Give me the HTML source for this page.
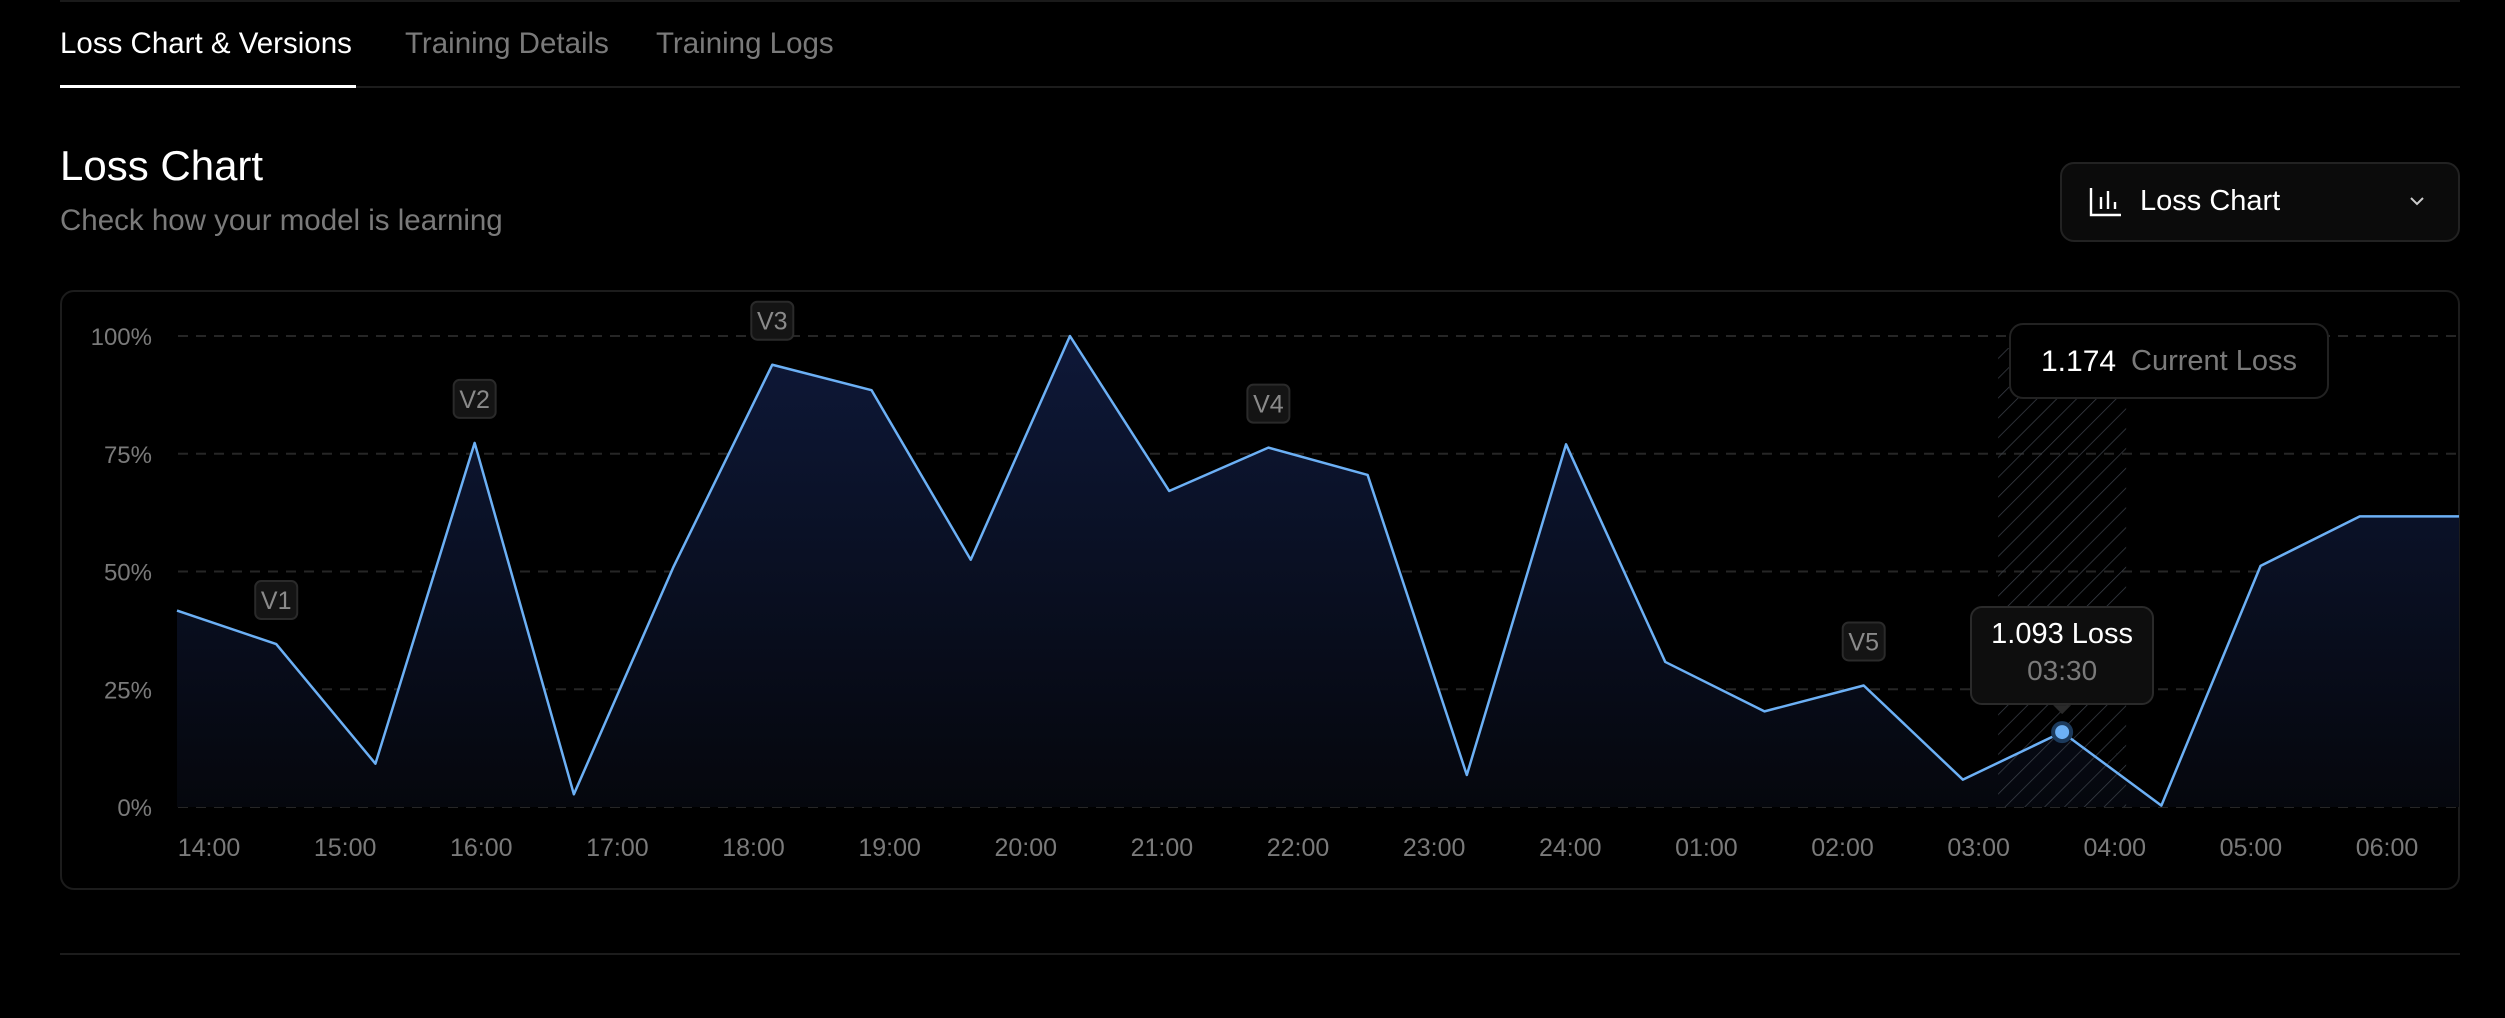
<!DOCTYPE html>
<html><head><meta charset="utf-8">
<style>
html,body{margin:0;padding:0;background:#000;width:2505px;height:1018px;overflow:hidden;font-family:"Liberation Sans",sans-serif;}
.abs{position:absolute;}
.tab{position:absolute;top:27px;font-size:29.5px;color:#7a7a7a;}
</style></head><body>
<div class="abs" style="left:60px;top:0;width:2400px;height:2px;background:#1a1a1a"></div>
<div class="tab" style="left:60px;color:#fff">Loss Chart &amp; Versions</div>
<div class="tab" style="left:405px">Training Details</div>
<div class="tab" style="left:656px">Training Logs</div>
<div class="abs" style="left:60px;top:86px;width:2400px;height:2px;background:#1c1c1c"></div>
<div class="abs" style="left:60px;top:85px;width:296px;height:3px;background:#fff"></div>
<div class="abs" style="left:60px;top:142px;font-size:42px;color:#fff">Loss Chart</div>
<div class="abs" style="left:60px;top:204px;font-size:29.5px;color:#7a7a7a">Check how your model is learning</div>
<div class="abs" style="left:2060px;top:162px;width:396px;height:76px;border:2px solid #222;border-radius:14px;background:#0b0b0b">
  <svg class="abs" style="left:27px;top:23px" width="34" height="30" viewBox="0 0 34 30"><path d="M2 1V28H32M12 10V22M19 4V22M26 15V22" stroke="#fff" stroke-width="2.4" fill="none"/></svg>
  <div class="abs" style="left:78px;top:21px;font-size:29px;color:#fff">Loss Chart</div>
  <svg class="abs" style="left:346px;top:30px" width="18" height="14" viewBox="0 0 18 14"><path d="M3 4L9 10L15 4" stroke="#ccc" stroke-width="2" fill="none"/></svg>
</div>
<div class="abs" style="left:60px;top:290px;width:2396px;height:596px;border:2px solid #1c1c1c;border-radius:14px"></div>
<div class="abs" style="left:60px;top:953px;width:2400px;height:2px;background:#1c1c1c"></div>
<svg id="chart" class="abs" style="left:0;top:0" width="2505" height="1018"></svg>
<div class="abs" style="left:2009px;top:323px;width:320px;height:76px;border:2px solid #222;border-radius:14px;background:#000;box-sizing:border-box">
  <span class="abs" style="left:30px;top:20px;font-size:30px;color:#fff">1.174</span>
  <span class="abs" style="left:120px;top:20px;font-size:29px;color:#7a7a7a">Current Loss</span>
</div>
<div id="tip" class="abs" style="width:184px;height:99px;border:2px solid #2a2a2a;border-radius:12px;background:#0e0e0e;box-sizing:border-box;text-align:center">
  <div style="margin-top:10px;font-size:29px;color:#fff">1.093 Loss</div>
  <div style="margin-top:4px;font-size:28px;color:#7a7a7a">03:30</div>
</div>
<script>
const yTicks=[0,25,50,75,100];
const xLabels=["14:00","15:00","16:00","17:00","18:00","19:00","20:00","21:00","22:00","23:00","24:00","01:00","02:00","03:00","04:00","05:00","06:00"];
const lossValues=[41.7,34.6,9.2,77.3,2.7,50.8,93.9,88.5,52.5,100,67.1,76.3,70.5,6.8,77,30.8,20.3,25.8,5.8,15.9,0.3,51.2,61.7,61.7];
const versionLabels=["V1","V2","V3","V4","V5"];
const versionIndex=[1,3,6,11,17];
const activeIndex=19;
const NS="http://www.w3.org/2000/svg";
const svg=document.getElementById('chart');
const X0=177,X1=2459,Y0=807,Y1=336;
const xs=i=>X0+(X1-X0)*i/(lossValues.length-1);
const ys=v=>Y0-(Y0-Y1)*v/100;
const lx=i=>209+(2387-209)*i/(xLabels.length-1);
function mk(t,a,p){const e=document.createElementNS(NS,t);for(const k in a)e.setAttribute(k,a[k]);(p||svg).appendChild(e);return e;}
const defs=mk('defs',{});
defs.innerHTML='<linearGradient id="fg" x1="0" y1="0" x2="0" y2="1"><stop offset="0" stop-color="#0e1838"/><stop offset="1" stop-color="#05070d"/></linearGradient><pattern id="hatch" width="14" height="14" patternUnits="userSpaceOnUse" patternTransform="rotate(45)"><line x1="0" y1="0" x2="0" y2="14" stroke="#3a3f48" stroke-width="1.5"/></pattern>';
yTicks.forEach(v=>{
  const g=mk('line',{x1:178,x2:2458,y1:ys(v),y2:ys(v),stroke:'#262626','stroke-width':2,'stroke-dasharray':'10 8'});
  
  
  const t=mk('text',{x:152,y:ys(v)+9,'text-anchor':'end','font-size':24,fill:'#7a7a7a','font-family':'Liberation Sans'});
  t.textContent=v+'%';
  
  
});
xLabels.forEach((l,i)=>{
  const t=mk('text',{x:lx(i),y:856,'text-anchor':'middle','font-size':25,fill:'#7a7a7a','font-family':'Liberation Sans'});
  t.textContent=l;
  
  
});
let pts=lossValues.map((v,i)=>xs(i)+','+ys(v)).join(' ');
const area=mk('polygon',{points:X0+','+Y0+' '+pts+' '+X1+','+Y0,fill:'url(#fg)'});


const hx=xs(activeIndex);
const hatch=mk('rect',{x:hx-64,y:348,width:128,height:Y0-348,fill:'url(#hatch)'});


const line=mk('polyline',{points:pts,fill:'none',stroke:'#6cb0f5','stroke-width':2.5,'stroke-linejoin':'round'});


versionIndex.forEach((idx,k)=>{
  const cx=xs(idx),cy=ys(lossValues[idx])-44;
  const r=mk('rect',{x:cx-21,y:cy-19,width:42,height:38,rx:6,fill:'#141414',stroke:'#2a2a2a','stroke-width':2});
  
  
  const t=mk('text',{x:cx,y:cy+9,'text-anchor':'middle','font-size':25,fill:'#8a8a8a','font-family':'Liberation Sans'});
  t.textContent=versionLabels[k];
  
  
});
const py=ys(lossValues[activeIndex]);
const pt=mk('circle',{cx:hx,cy:py,r:9,fill:'#6cb0f5',stroke:'#1c3a5c','stroke-width':4});


const tri=mk('polygon',{points:(hx-9)+','+(py-27)+' '+(hx+9)+','+(py-27)+' '+hx+','+(py-18),fill:'#2a2a2a'});


const tip=document.getElementById('tip');
tip.style.left=(hx-92)+'px';tip.style.top=(py-126)+'px';
</script>
</body></html>
